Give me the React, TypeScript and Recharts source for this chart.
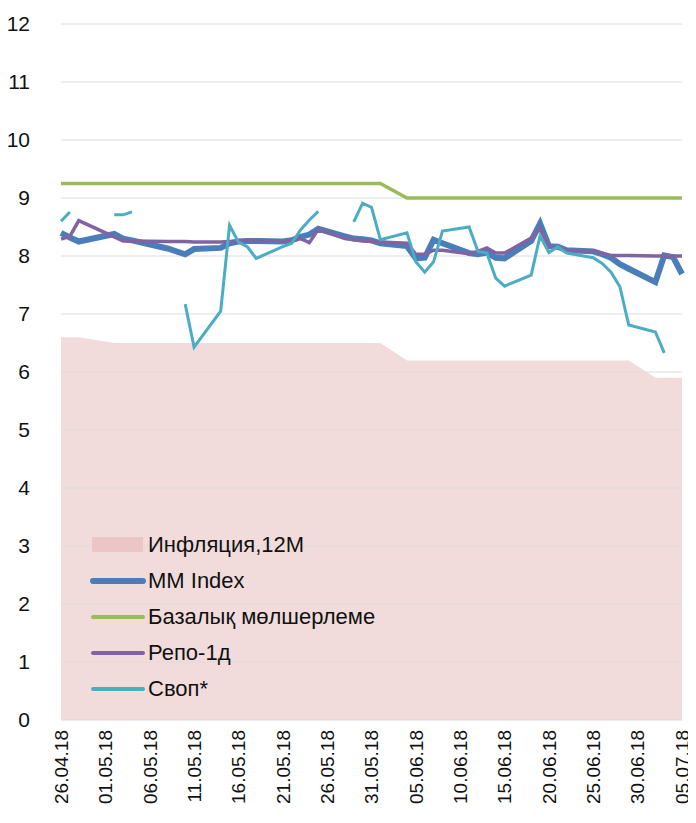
import {
  Area,
  ComposedChart,
  Line,
  ReferenceLine,
  XAxis,
  YAxis
} from "recharts";

// day offsets from 26.04.18 (only the dates that have rows)
const days = [
  0, 1, 2, 6, 7, 8, 12, 14, 15, 18, 19, 20, 21, 22, 25, 26, 27, 28, 29, 32, 33, 34, 35, 36,
  39, 40, 41, 42, 43, 46, 47, 48, 49, 50, 53, 54, 55, 56, 57, 60, 61, 62, 63, 64, 67, 68, 69, 70
];

const mmIndex = [
  8.4, 8.32, 8.25, 8.38, 8.3, 8.27, 8.13, 8.03, 8.12, 8.14, 8.22, 8.25, 8.26, 8.26, 8.25, 8.27,
  8.33, 8.37, 8.47, 8.34, 8.3, 8.29, 8.27, 8.22, 8.17, 7.96, 7.97, 8.28, 8.22, 8.05, 8.03, 8.06,
  7.97, 7.96, 8.26, 8.56, 8.17, 8.16, 8.1, 8.08, 8.03, 7.97, 7.86, 7.78, 7.55, 8.01, 7.98, 7.69
];

const baseRate = [
  9.25, 9.25, 9.25, 9.25, 9.25, 9.25, 9.25, 9.25, 9.25, 9.25, 9.25, 9.25, 9.25, 9.25, 9.25, 9.25,
  9.25, 9.25, 9.25, 9.25, 9.25, 9.25, 9.25, 9.25, 9, 9, 9, 9, 9, 9, 9, 9,
  9, 9, 9, 9, 9, 9, 9, 9, 9, 9, 9, 9, 9, 9, 9, 9
];

const repo = [
  8.29, 8.34, 8.61, 8.33, 8.26, 8.26, 8.25, 8.25, 8.24, 8.24, 8.25, 8.26, 8.27, 8.27, 8.26, 8.26,
  8.3, 8.23, 8.46, 8.3, 8.28, 8.26, 8.25, 8.24, 8.22, 8.03, 8.03, 8.1, 8.1, 8.04, 8.08, 8.14,
  8.05, 8.05, 8.31, 8.48, 8.16, 8.14, 8.1, 8.09, 8.05, 8.01, 8.01, 8.01, 8.0, 8.0, 8.0, 8.0
];

const swap = [
  8.6, 8.76, null, 8.71, 8.71, 8.76, null, 7.17, 6.43, 7.05, 8.53, 8.24, 8.16, 7.96, 8.16, 8.22,
  8.45, 8.62, 8.77, null, 8.59, 8.91, 8.84, 8.28, 8.4, 7.9, 7.72, 7.9, 8.43, 8.5, 8.08, 8.05,
  7.62, 7.48, 7.67, 8.35, 8.06, 8.16, 8.05, 7.97, 7.87, 7.72, 7.47, 6.81, 6.69, 6.33, null, null
];

const inflation = [
  6.6, 6.6, 6.6, 6.5, 6.5, 6.5, 6.5, 6.5, 6.5, 6.5, 6.5, 6.5, 6.5, 6.5, 6.5, 6.5,
  6.5, 6.5, 6.5, 6.5, 6.5, 6.5, 6.5, 6.5, 6.2, 6.2, 6.2, 6.2, 6.2, 6.2, 6.2, 6.2,
  6.2, 6.2, 6.2, 6.2, 6.2, 6.2, 6.2, 6.2, 6.2, 6.2, 6.2, 6.2, 5.9, 5.9, 5.9, 5.9
];

const xTickLabels = [
  "26.04.18", "01.05.18", "06.05.18", "11.05.18", "16.05.18", "21.05.18", "26.05.18", "31.05.18",
  "05.06.18", "10.06.18", "15.06.18", "20.06.18", "25.06.18", "30.06.18", "05.07.18"
];
const xTicks = xTickLabels.map((_, i) => i * 5);
const yTicks = [0, 1, 2, 3, 4, 5, 6, 7, 8, 9, 10, 11, 12];

const data = days.map((day, i) => ({
  day,
  mm: mmIndex[i],
  base: baseRate[i],
  repo: repo[i],
  swap: swap[i],
  inflation: inflation[i]
}));

const FONT = "'Liberation Sans', Arial, sans-serif";

const legendItems = [
  { name: "Инфляция,12M", color: "#ebc6c5", kind: "rect" },
  { name: "MM Index", color: "#4a7ebb", kind: "thick" },
  { name: "Базалық мөлшерлеме", color: "#9bbb59", kind: "line" },
  { name: "Репо-1д", color: "#8064a2", kind: "line" },
  { name: "Своп*", color: "#4bacc6", kind: "line" }
];

// drawn as an overlay so it doesn't eat into the plot height
function ChartLegend() {
  return (
    <div
      style={{
        position: "absolute",
        left: 82,
        top: 519,
        fontFamily: FONT,
        fontSize: 22,
        color: "#111",
        pointerEvents: "none"
      }}
    >
      {legendItems.map((item) => (
        <div key={item.name} style={{ display: "flex", alignItems: "center", height: 36 }}>
          <svg width={58} height={20}>
            {item.kind === "rect" ? (
              <rect x={2} y={2} width={51} height={15} fill={item.color} />
            ) : (
              <line
                x1={3}
                x2={53}
                y1={10}
                y2={10}
                stroke={item.color}
                strokeWidth={item.kind === "thick" ? 6 : 4}
                strokeLinecap="round"
              />
            )}
          </svg>
          <span>{item.name}</span>
        </div>
      ))}
    </div>
  );
}

function DateTick({ x, y, payload }: any) {
  const label = xTickLabels[Math.round(payload.value / 5)];
  return (
    <g transform={`translate(${x},${y})`}>
      <text
        x={0}
        y={0}
        dy="0.36em"
        textAnchor="end"
        transform="rotate(-90)"
        fontFamily={FONT}
        fontSize={19}
        fill="#111"
      >
        {label}
      </text>
    </g>
  );
}

export default function App() {
  return (
    <div style={{ position: "relative", width: 688, height: 815 }}>
      <ComposedChart
        width={688}
        height={815}
        data={data}
        margin={{ top: 16, right: 14, bottom: 13, left: 0 }}
      >
        <XAxis
          type="number"
          dataKey="day"
          domain={[0, 70]}
          ticks={xTicks}
          interval={0}
          tick={<DateTick />}
          tickLine={false}
          tickSize={0}
          tickMargin={10}
          height={90}
          axisLine={{ stroke: "#d9d9d9" }}
        />
        <YAxis
          type="number"
          domain={[0, 12]}
          ticks={yTicks}
          interval={0}
          width={53}
          axisLine={false}
          tickLine={false}
          tickSize={6}
          tickMargin={25}
          tick={{ fontFamily: FONT, fontSize: 21, fill: "#111" }}
        />
        <Area
          type="linear"
          dataKey="inflation"
          fill="#f2dcdb"
          fillOpacity={1}
          stroke="none"
          isAnimationActive={false}
        />
        {yTicks.slice(1).map((t) => (
          <ReferenceLine key={t} y={t} stroke="#dcdcdc" strokeWidth={1} />
        ))}
        <Line
          type="linear"
          dataKey="base"
          stroke="#9bbb59"
          strokeWidth={3.5}
          dot={false}
          isAnimationActive={false}
        />
        <Line
          type="linear"
          dataKey="mm"
          stroke="#4a7ebb"
          strokeWidth={6}
          dot={false}
          isAnimationActive={false}
        />
        <Line
          type="linear"
          dataKey="repo"
          stroke="#8064a2"
          strokeWidth={3.5}
          dot={false}
          isAnimationActive={false}
        />
        <Line
          type="linear"
          dataKey="swap"
          stroke="#4bacc6"
          strokeWidth={3}
          dot={false}
          connectNulls={false}
          isAnimationActive={false}
        />
      </ComposedChart>
      <ChartLegend />
    </div>
  );
}
